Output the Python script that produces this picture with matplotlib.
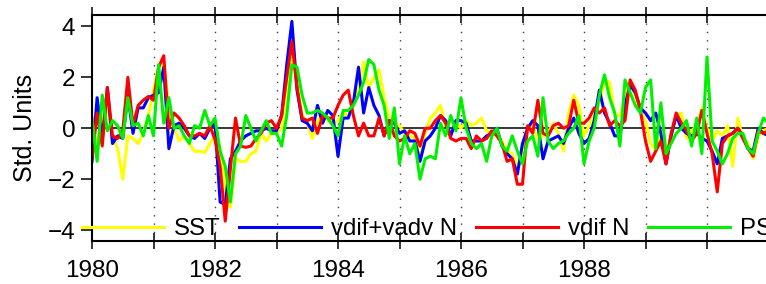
#!/usr/bin/env python3

import numpy as np
import matplotlib
matplotlib.use('Agg')
import matplotlib.pyplot as plt

plt.rcParams['font.family'] = ['Liberation Sans', 'DejaVu Sans']

# monthly standardized anomalies, starting Jan 1980
sst = [-0.7, -0.5, 0.3, 0.9, -0.3, -0.8, -2.0, -0.3, -0.4, -0.6, -0.2, 0.5,
       1.5, 2.4, 2.5, 0.8, 0.0, -0.5, -0.3, -0.6, -0.9, -0.9, -0.95, -0.6,
       -0.3, -0.8, -2.5, -3.1, -1.2, -1.3, -1.3, -1.0, -0.9, -0.2, -0.5, -0.2,
       -0.2, 0.0, 1.5, 3.0, 1.7, 0.5, 0.2, -0.4, 0.3, 0.5, 0.3, 0.2,
       0.3, 0.6, 0.5, 0.9, 1.5, 2.6, 1.6, 2.0, 2.3, 1.2, 0.4, 0.2,
       0.1, -0.2, -0.3, -0.4, -1.2, -0.2, 0.4, 0.6, 0.9, 0.1, 0.3, 0.2,
       0.0, 0.3, 0.1, 0.2, 0.4, -0.1, -0.2, -0.3, -0.5, -0.9, -1.0, -1.5,
       -1.2, 0.0, 0.1, -0.4, -0.3, -0.2, 0.2, -0.2, -0.9, 0.6, 1.3, 0.9,
       -0.3, 0.1, 0.5, 1.0, 1.9, 1.8, 0.5, 0.5, 1.2, 1.8, 1.3, 0.7,
       0.3, -0.6, -0.9, -0.3, -1.0, -0.3, 0.5, 0.6, -0.4, -0.1, 0.1, 0.8,
       0.0, -0.5, -0.1, -0.3, 0.1, -1.5, 0.4, -0.4, -0.6, -1.2, -0.3, -0.1, 0.0]

vdif_vadv = [-1.3, 1.2, -0.4, 1.6, -0.6, -0.3, -0.4, 1.3, -0.2, 0.8, 0.8, 1.2,
             1.3, 1.4, 2.4, -0.8, 0.1, 0.2, 0.0, -0.3, -0.4, -0.2, -0.4, 0.0,
             0.2, -2.9, -3.0, -1.2, -0.9, -0.5, -0.3, -0.2, -0.1, -0.1, 0.0, -0.1,
             -0.1, 0.5, 2.5, 4.2, 1.5, 0.3, 0.2, -0.1, 0.9, 0.2, 0.7, 0.5,
             -1.1, 0.4, 0.4, 1.0, 2.4, 0.6, 1.6, 0.9, 0.5, -0.3, 0.3, 0.2,
             -0.2, -0.1, -0.5, -0.5, -1.3, -0.5, -0.3, 0.0, 0.5, 0.3, -0.3, 0.3,
             0.3, 0.2, -0.5, -0.5, -0.5, -0.3, -0.2, 0.0, -0.7, -1.0, -1.2, -1.8,
             -0.6, 0.0, 0.3, 0.1, -1.2, -0.5, -0.4, -0.3, -0.6, 0.0, 0.4, -0.2,
             -0.6, -0.4, 0.3, 1.5, 0.6, 0.2, -0.3, -0.3, 0.9, 1.7, 1.4, 0.8,
             0.6, 0.3, 0.6, -0.2, -1.4, -0.3, 0.5, 0.0, -0.2, -0.3, -0.2, -0.4,
             -0.5, -0.9, -1.4, -0.4, -0.3, -0.2, 0.0, -0.3, -0.8, -0.9, 0.0, -0.2, -0.3]

vdif = [-1.2, 0.6, -0.7, 1.6, -0.3, -0.4, -0.1, 2.0, 0.1, 0.9, 1.1, 1.25,
        1.1, 2.4, 2.85, 0.0, 0.6, 0.4, 0.1, -0.3, -0.3, -0.2, -0.3, 0.1,
        -0.45, -1.5, -3.65, -1.6, 0.4, -0.7, -0.75, -0.7, -0.4, -0.2, 0.2, 0.3,
        0.0, 0.5, 2.0, 3.4, 1.6, 0.4, 0.3, 0.4, -0.2, 0.5, 0.4, 0.4,
        0.9, 1.3, 1.5, 0.5, -0.3, 0.2, -0.3, -0.3, 0.4, -0.3, 0.3, -0.3,
        -0.5, -0.4, -0.1, -0.2, -0.7, 0.0, 0.0, 0.3, 0.5, 0.2, -0.4, -0.5,
        -0.4, -0.4, -0.8, -0.3, -0.5, -0.4, -0.1, -0.3, -0.6, -1.3, -1.2, -2.2,
        -2.2, 0.1, -0.2, 1.1, -0.2, -0.3, 0.1, 0.2, 0.0, 0.1, 1.1, 0.2,
        0.2, 0.4, 0.8, 0.6, 0.8, 0.1, 0.3, 0.1, 0.3, 1.9, 1.5, 0.7,
        -0.5, -1.3, -0.9, -0.5, -1.4, -0.2, 0.6, 0.2, -0.1, -0.5, -0.2, 0.7,
        -0.2, -1.0, -2.5, -0.6, -0.3, -0.2, 0.0, -0.4, -0.8, -1.1, -0.1, -0.2, -0.1]

ps = [0.4, -1.3, 1.3, -0.1, 0.3, 0.1, -0.4, 1.2, 0.1, 0.2, -0.3, 0.5,
      -0.3, 2.5, 0.2, 1.2, 0.0, 0.1, -0.3, -0.6, 0.1, 0.0, 0.7, 0.1,
      0.4, -0.9, -1.5, -2.9, -1.0, -0.7, 0.5, 0.0, -0.5, -0.1, 0.3, -0.2,
      -0.2, -0.7, 0.5, 2.5, 2.4, 1.3, 0.6, 0.6, 0.7, 0.6, 0.4, 0.1,
      -0.3, 0.7, 0.7, 0.9, 1.3, 1.8, 2.7, 2.5, 1.5, 0.9, -0.4, 0.8,
      -1.4, -0.3, -1.0, -0.6, -2.0, -1.2, -1.1, -1.2, 0.2, -0.3, 0.5, -0.1,
      1.2, 0.0, -0.6, -0.8, -0.6, -1.3, -0.3, 0.0, -0.7, -0.9, -0.3, -0.9,
      -1.4, -0.5, -0.3, -1.1, 1.2, -0.5, -0.8, -0.6, -0.5, -0.2, 0.0, 0.5,
      -1.4, -0.5, 0.0, 1.3, 2.1, 1.2, 0.6, -0.7, 1.9, 1.4, 0.9, 0.6,
      1.6, 1.9, -0.8, 1.0, -1.0, -0.6, -0.2, 0.0, 0.3, -0.7, 0.4, -1.0,
      2.8, -0.5, -0.9, -1.4, -1.0, -0.4, -0.2, -0.2, -0.8, -1.0, -0.2, 0.4, 0.2]

labels = ['SST', 'vdif+vadv N', 'vdif N', 'PSL']
colors = ['#ffff00', '#0000ff', '#ff0000', '#00f000']

years = np.arange(1980, 1992)
year_labels = ['1980', '', '1982', '', '1984', '', '1986', '', '1988', '', '', '']

t = 1980 + np.arange(len(sst)) / 12.0

fig = plt.figure(figsize=(7.66, 2.84), dpi=100)
W, H = 766.0, 284.0
x0, x1 = 92, 786
ax = fig.add_axes([x0 / W, (H - 241) / H, (x1 - x0) / W, 226 / H])

for yr in years[1:]:
    ax.axvline(yr, color='0.25', lw=1, ls=(0, (1, 5)), zorder=1)
ax.axhline(0, color='k', lw=1.1, zorder=1)

for ser, lab, c in zip([sst, vdif_vadv, vdif, ps], labels, colors):
    ax.plot(t, ser, color=c, lw=2.2, label=lab, zorder=2)

ax.set_xlim(1980, 1980 + (x1 - x0) / 61.5)
ax.set_ylim(-4.43, 4.45)
ax.set_xticks(years)
ax.set_xticklabels(year_labels)
ax.set_yticks([-4, -2, 0, 2, 4])
ax.tick_params(axis='x', direction='inout', length=11, width=1.1,
               top=True, labelsize=17.5, pad=8)
ax.tick_params(axis='y', direction='out', length=8, width=1.1,
               right=False, labelsize=17.5, pad=4)
for s in ax.spines.values():
    s.set_linewidth(1.5)
ax.spines['right'].set_visible(False)
ax.set_ylabel('Std. Units', fontsize=18, labelpad=8)

ax.legend(loc='center left', bbox_to_anchor=(82 / W, 1 - 229 / H),
          bbox_transform=fig.transFigure, ncol=4, frameon=False,
          handlelength=3.4, handletextpad=0.42, columnspacing=0.78,
          borderpad=0, borderaxespad=0, fontsize=17.3)

plt.savefig('out.png', dpi=100)
